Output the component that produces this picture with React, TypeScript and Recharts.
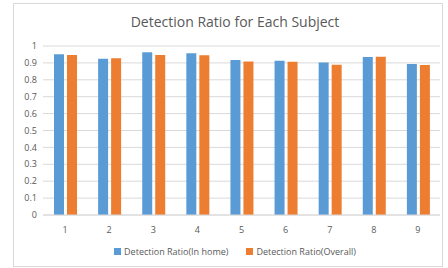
import { Bar, BarChart, CartesianGrid, XAxis, YAxis } from "recharts";

const subjects = ["1", "2", "3", "4", "5", "6", "7", "8", "9"];
const inHome = [0.951, 0.925, 0.963, 0.957, 0.917, 0.913, 0.903, 0.935, 0.893];
const overall = [0.947, 0.927, 0.947, 0.945, 0.909, 0.907, 0.889, 0.937, 0.888];
const yTicks = [0, 0.1, 0.2, 0.3, 0.4, 0.5, 0.6, 0.7, 0.8, 0.9, 1];

const data = subjects.map((s, i) => ({ s, inHome: inHome[i], overall: overall[i] }));

const FONT = "'Open Sans', sans-serif";
const TXT = "#595959";

const legendItems = [
  { label: "Detection Ratio(In home)", color: "#5B9BD5" },
  { label: "Detection Ratio(Overall)", color: "#ED7D31" },
];

export default function App() {
  return (
    <div style={{ position: "absolute", left: 0, top: 0, width: 448, height: 268, background: "#fff" }}>
      <div style={{ position: "absolute", left: 13, top: 3, width: 428, height: 262, border: "1px solid #D9D9D9" }} />
      <div style={{ position: "absolute", left: 0, top: 12, width: 470, textAlign: "center", fontFamily: FONT, fontSize: 14, color: TXT }}>
        Detection Ratio for Each Subject
      </div>
      <div style={{ position: "absolute", left: 0, top: 245, width: 470, display: "flex", justifyContent: "center", gap: 18, fontFamily: FONT, fontSize: 9, color: TXT }}>
        {legendItems.map((it) => (
          <div key={it.label} style={{ display: "flex", alignItems: "center" }}>
            <span style={{ display: "inline-block", width: 7, height: 7, background: it.color, marginRight: 3 }} />
            {it.label}
          </div>
        ))}
      </div>
      <div style={{ position: "absolute", left: 0, top: 0 }}>
        <BarChart width={448} height={268} data={data} margin={{ top: 46, right: 8, bottom: 33, left: 0 }} barSize={10} barGap={3}>
          <CartesianGrid vertical={false} stroke="#D9D9D9" />
          <XAxis dataKey="s" tickLine={false} axisLine={{ stroke: "#D9D9D9" }} tick={{ fill: TXT, fontSize: 9, fontFamily: FONT }} tickMargin={6} height={20} />
          <YAxis width={43} domain={[0, 1]} ticks={yTicks} interval={0} axisLine={false} tickLine={false} tick={{ fill: TXT, fontSize: 9, fontFamily: FONT }} tickMargin={0} />
          <Bar dataKey="inHome" fill="#5B9BD5" isAnimationActive={false} />
          <Bar dataKey="overall" fill="#ED7D31" isAnimationActive={false} />
        </BarChart>
      </div>
    </div>
  );
}
